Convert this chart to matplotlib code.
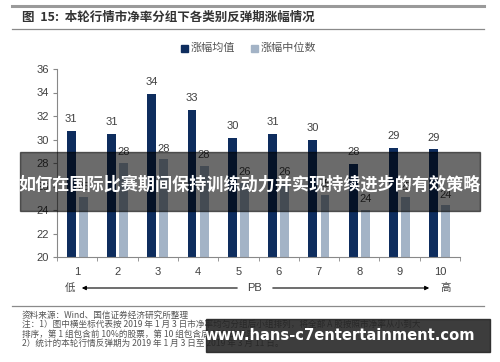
import numpy as np
import matplotlib
matplotlib.use("Agg")
import matplotlib.pyplot as plt
from matplotlib.patches import Rectangle, FancyArrowPatch

plt.rcParams['font.family'] = ['Liberation Sans', 'Noto Sans CJK SC', 'DejaVu Sans']

# data
groups = ['1', '2', '3', '4', '5', '6', '7', '8', '9', '10']
mean_vals = [30.7, 30.5, 33.85, 32.5, 30.1, 30.5, 30.0, 27.9, 29.25, 29.15]
median_vals = [25.1, 28.0, 28.3, 27.75, 26.3, 26.3, 25.3, 24.0, 25.1, 24.4]
mean_labels = ['31', '31', '34', '33', '30', '31', '30', '28', '29', '29']
median_labels = ['25', '28', '28', '28', '26', '26', '25', '24', '25', '24']
series_names = ['涨幅均值', '涨幅中位数']
y_ticks = [20, 22, 24, 26, 28, 30, 32, 34, 36]

W, H = 500, 362
navy = '#0e2d5e'
light = '#a3b3c6'
grey_txt = '#404040'
cjk = ['Noto Sans CJK SC', 'DejaVu Sans']

fig = plt.figure(figsize=(W / 100, H / 100), dpi=100)
fig.patch.set_facecolor('white')

def fx(px):
    return px / W

def fy(py):
    return 1 - py / H

# header lines and title
fig.add_artist(plt.Line2D([fx(12), fx(484)], [fy(6), fy(6)], color='#9a9a9a', lw=2.2))
fig.add_artist(plt.Line2D([fx(12), fx(484)], [fy(29), fy(29)], color='#8a8a8a', lw=0.9))
fig.text(fx(22), fy(17.5), '图  15:  本轮行情市净率分组下各类别反弹期涨幅情况', fontsize=9,
         fontweight='bold', color='#333333', va='center', family=cjk)

# legend
fig.add_artist(Rectangle((fx(181), fy(52)), fx(7), 7 / H, color=navy, transform=fig.transFigure))
fig.text(fx(191), fy(48), series_names[0], fontsize=8, color='#555555', va='center', family=cjk)
fig.add_artist(Rectangle((fx(251), fy(52)), fx(7), 7 / H, color=light, transform=fig.transFigure))
fig.text(fx(261), fy(48), series_names[1], fontsize=8, color='#555555', va='center', family=cjk)

# main axes
ax = fig.add_axes([fx(57), fy(257), fx(460 - 57), (257 - 69) / H])
x = np.arange(1, len(groups) + 1)
bw = 0.22
ax.bar(x - 0.15, mean_vals, bw, color=navy, zorder=2)
ax.bar(x + 0.15, median_vals, bw, color=light, zorder=2)
for xi, v, lab in zip(x, mean_vals, mean_labels):
    ax.annotate(lab, (xi - 0.15, v), xytext=(0, 5), textcoords='offset points',
                ha='center', va='bottom', fontsize=8, color=grey_txt)
for xi, v, lab in zip(x, median_vals, median_labels):
    ax.annotate(lab, (xi + 0.15, v), xytext=(0, 4), textcoords='offset points',
                ha='center', va='bottom', fontsize=8, color=grey_txt)

ax.set_xlim(0.5, 10.5)
ax.set_ylim(20, 36)
ax.set_yticks(y_ticks)
ax.set_yticklabels([str(t) for t in y_ticks], fontsize=8, color=grey_txt)
ax.set_xticks(x)
ax.set_xticklabels(groups, fontsize=8, color=grey_txt)
ax.tick_params(axis='x', length=0, pad=7)
ax.set_xticks(np.arange(0.5, 11, 1), minor=True)
ax.tick_params(axis='x', which='minor', length=3, color='#888888', direction='out')
ax.tick_params(axis='y', length=3, color='#888888', pad=3)
for s in ['top', 'right']:
    ax.spines[s].set_visible(False)
for s in ['left', 'bottom']:
    ax.spines[s].set_color('#888888')
    ax.spines[s].set_linewidth(0.8)

# PB direction row
fig.text(fx(70), fy(288), '低', fontsize=7.5, color=grey_txt, va='center', ha='center', family=cjk)
fig.text(fx(446), fy(288), '高', fontsize=7.5, color=grey_txt, va='center', ha='center', family=cjk)
fig.text(fx(255), fy(288), 'PB', fontsize=8, color=grey_txt, va='center', ha='center')
fig.add_artist(FancyArrowPatch((fx(240), fy(288)), (fx(79), fy(288)), transform=fig.transFigure,
                               arrowstyle='-|>', mutation_scale=6, lw=0.8, color='black'))
fig.add_artist(FancyArrowPatch((fx(270), fy(288)), (fx(432), fy(288)), transform=fig.transFigure,
                               arrowstyle='-|>', mutation_scale=6, lw=0.8, color='black'))

# footer
fig.add_artist(plt.Line2D([fx(12), fx(484)], [fy(306), fy(306)], color='#8a8a8a', lw=0.9))
notes = ['资料来源：Wind、国信证券经济研究所整理',
         '注：1）图中横坐标代表按 2019 年 1 月 3 日市净率均匀分组后小组排列，将全部 A 股按照市净率从小到大',
         '排序，第 1 组包含前 10%的股票，第 10 组包含后 10%的股票；',
         '2）统计的本轮行情反弹期为 2019 年 1 月 3 日至 2019 年 3 月 11 日。']
for i, t in enumerate(notes):
    fig.text(fx(22), fy(315 + 9.5 * i), t, fontsize=6.2, color='#555555', va='center', family=cjk)

# overlays present in the reference image
fig.add_artist(Rectangle((fx(20), fy(211)), fx(460), 59 / H, color='black', alpha=0.58,
                         transform=fig.transFigure, zorder=10))
fig.text(fx(250), fy(185), '如何在国际比赛期间保持训练动力并实现持续进步的有效策略', fontsize=12.3,
         fontweight='bold', color='white', va='center', ha='center', family=cjk, zorder=11)
fig.add_artist(Rectangle((fx(206), fy(352)), fx(284), 33 / H, color='#222222', alpha=0.88,
                         transform=fig.transFigure, zorder=10))
fig.text(fx(340), fy(335), 'www.hans-c7entertainment.com', fontsize=10.6, fontweight='bold',
         color='white', va='center', ha='center', family=['DejaVu Sans'], zorder=11)

fig.savefig('out.png', dpi=100)
